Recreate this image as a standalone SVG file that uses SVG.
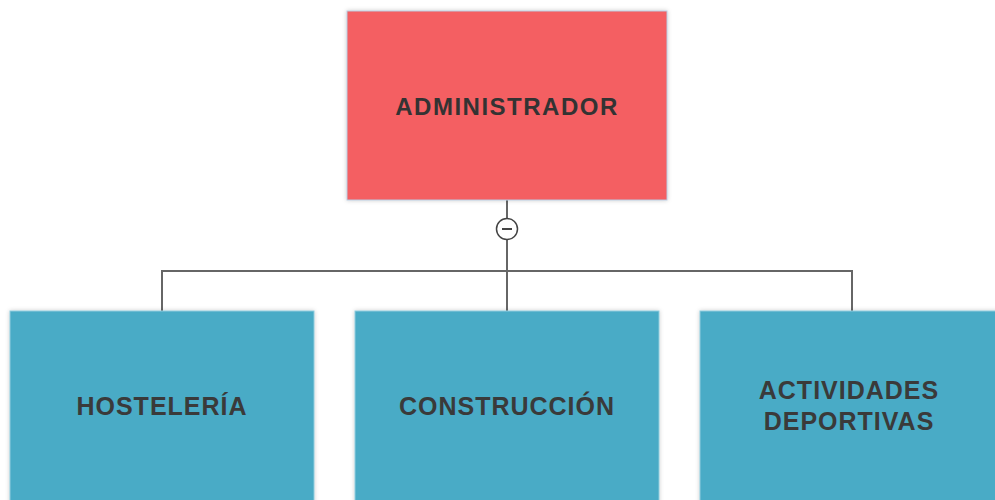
<svg xmlns="http://www.w3.org/2000/svg" width="995" height="500" viewBox="0 0 995 500">
  <defs>
    <filter id="sh" x="-5%" y="-5%" width="110%" height="110%">
      <feDropShadow dx="0" dy="0" stdDeviation="2" flood-color="#000" flood-opacity="0.2"/>
    </filter>
  </defs>
  <style>
    .root { fill: #F45F62; stroke: #B9CBE0; stroke-width: 1; filter: url(#sh); }
    .child { fill: #4AABC6; stroke: #8FCBDD; stroke-width: 1; filter: url(#sh); }
    .lbl { font-family: "Liberation Sans", Arial, sans-serif; font-weight: bold; font-size: 24px; fill: #333; text-anchor: middle; letter-spacing: 1.5px; }
    .lbl2 { fill: #3a3a3a; font-size: 25px; letter-spacing: 1px; }
    .conn { fill: none; stroke: #666; stroke-width: 2; }
  </style>
  <rect width="995" height="500" fill="#fff"/>
  <g id="connectors">
    <path class="conn" d="M507 200 V311"/>
    <path class="conn" d="M162 311 V271 H852 V311"/>
    <circle cx="507" cy="229" r="10.5" fill="#fff" stroke="#444" stroke-width="1.5"/>
    <line x1="502" y1="229" x2="512" y2="229" stroke="#444" stroke-width="2"/>
  </g>
  <g id="administrador">
    <rect class="root" x="347" y="11" width="320" height="189"/>
    <text class="lbl" x="507" y="115">ADMINISTRADOR</text>
  </g>
  <g id="hosteleria">
    <rect class="child" x="10" y="311" width="304" height="200"/>
    <text class="lbl lbl2" x="162" y="415">HOSTELERÍA</text>
  </g>
  <g id="construccion">
    <rect class="child" x="355" y="311" width="304" height="200"/>
    <text class="lbl lbl2" x="507" y="415">CONSTRUCCIÓN</text>
  </g>
  <g id="actividades">
    <rect class="child" x="700" y="311" width="304" height="200"/>
    <text class="lbl lbl2" x="849" y="399">ACTIVIDADES</text>
    <text class="lbl lbl2" x="849" y="430">DEPORTIVAS</text>
  </g>
</svg>
